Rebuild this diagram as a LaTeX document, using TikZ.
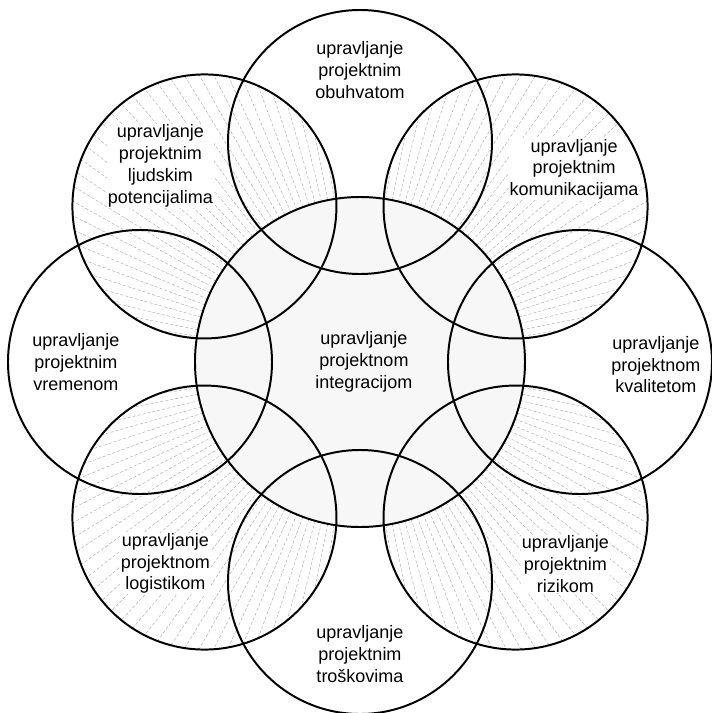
\documentclass[tikz,border=0pt]{standalone}
\usepackage{fontspec}
\setmainfont{Liberation Sans}
\usetikzlibrary{positioning}

\tikzset{
  area/.style={circle, draw, line width=1.4pt, minimum size=6.6cm, inner sep=0pt},
  core/.style={circle, draw, line width=1.4pt, minimum size=8.25cm, inner sep=0pt},
  lbl/.style={align=center, inner sep=0.5pt, font=\fontsize{12.8}{15.5}\selectfont},
  hatch/.style={gray!60, line width=0.35pt, dash pattern=on 2.2pt off 1.4pt},
}

\begin{document}
\begin{tikzpicture}
  \useasboundingbox (-9.0,-8.775) rectangle (8.8,9.05);
  % light core
  \fill[black!3] (0,0) circle (4.125);
  % radial hatching of the diagonal areas
  \begin{scope}
    \clip (45:5.5) circle (3.3) (135:5.5) circle (3.3)
          (-45:5.5) circle (3.3) (-135:5.5) circle (3.3);
    \foreach \a in {0,2.25,...,357.75}
      \draw[hatch] (\a:4.125) -- (\a:8.8);
  \end{scope}
  % labels
  \node[lbl] (l-integ) at (0.1,0) {upravljanje\\projektnom\\integracijom};
  \node[lbl] (l-scope) at (90:7.3) {upravljanje\\projektnim\\obuhvatom};
  \node[lbl, fill=white] (l-comm) at (42:7.2) {upravljanje\\projektnim\\komunikacijama};
  \node[lbl] (l-quality) at (-0.5:7.4) {upravljanje\\projektnom\\kvalitetom};
  \node[lbl, fill=white] (l-risk) at (-44.5:7.2) {upravljanje\\projektnim\\rizikom};
  \node[lbl] (l-cost) at (-90:7.3) {upravljanje\\projektnim\\troškovima};
  \node[lbl, fill=white] (l-logist) at (-134:7.0) {upravljanje\\projektnom\\logistikom};
  \node[lbl] (l-time) at (180:7.1) {upravljanje\\projektnim\\vremenom};
  \node[lbl, fill=white] (l-human) at (135.5:7.0) {upravljanje\\projektnim\\ljudskim\\potencijalima};
  % outer areas and core
  \foreach \a/\n in {90/scope, 45/comm, 0/quality, -45/risk,
                     -90/cost, -135/logist, 180/time, 135/human}
    \node[area] (\n) at (\a:5.5) {};
  \node[core] (integ) at (0,0) {};
\end{tikzpicture}
\end{document}
